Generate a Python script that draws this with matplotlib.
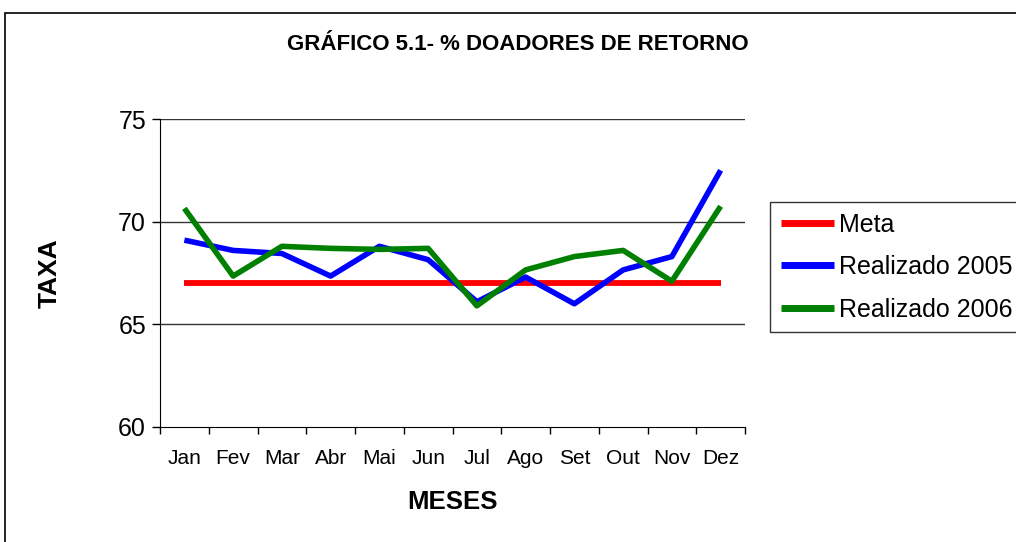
import matplotlib
matplotlib.use("Agg")
import matplotlib.pyplot as plt
from matplotlib.patches import Rectangle
from matplotlib.ticker import FixedLocator

plt.rcParams['font.family'] = ['Liberation Sans', 'DejaVu Sans']

months = ["Jan", "Fev", "Mar", "Abr", "Mai", "Jun", "Jul", "Ago", "Set", "Out", "Nov", "Dez"]
meta = [67.0] * 12
real_2005 = [69.1, 68.6, 68.45, 67.35, 68.8, 68.15, 66.1, 67.3, 66.0, 67.65, 68.3, 72.5]
real_2006 = [70.65, 67.35, 68.8, 68.7, 68.65, 68.7, 65.9, 67.65, 68.3, 68.6, 67.1, 70.75]
yticks = [60, 65, 70, 75]

fig = plt.figure(figsize=(10.16, 5.42), dpi=100)
ax = fig.add_axes([160/1016, 1-427/542, (745-160)/1016, (427-119)/542])

x = list(range(len(months)))
ax.plot(x, meta, color="#ff0000", lw=4.2, label="Meta", solid_capstyle="butt")
ax.plot(x, real_2005, color="#0000ff", lw=4, label="Realizado 2005", solid_capstyle="butt")
ax.plot(x, real_2006, color="#008000", lw=4, label="Realizado 2006", solid_capstyle="butt")

ax.set_xlim(-0.5, len(months) - 0.5)
ax.set_ylim(60, 75)
ax.set_yticks(yticks)
ax.set_xticks(x)
ax.set_xticklabels(months, fontsize=15)
ax.xaxis.set_minor_locator(FixedLocator([i - 0.5 for i in range(len(months) + 1)]))
ax.tick_params(axis='x', which='major', length=0, pad=16)
ax.tick_params(axis='x', which='minor', length=5, width=1, direction='out')
ax.tick_params(axis='y', labelsize=18, length=6, width=1, direction='out', pad=4)
for v in yticks[1:]:
    ax.axhline(v, color="#333333", lw=1, zorder=0)
for s in ["top", "right"]:
    ax.spines[s].set_visible(False)
ax.spines["left"].set_color("black")
ax.spines["bottom"].set_color("black")

ax.set_ylabel("TAXA", fontsize=19, fontweight="bold", va="center", ha="center")
ax.yaxis.set_label_coords((50-160)/585, 0.5)
ax.set_xlabel("MESES", fontsize=18.5, fontweight="bold", va="center", ha="center")
ax.xaxis.set_label_coords(0.5, (427-502)/308)
fig.text(518/1016, 1-45/542, "GRÁFICO 5.1- % DOADORES DE RETORNO", ha="center", va="center",
         fontsize=16, fontweight="bold")

leg = fig.legend(loc="upper left", bbox_to_anchor=(770/1016, 1-202/542), fontsize=18,
                 frameon=True, fancybox=False, edgecolor="black", handlelength=2.15,
                 handletextpad=0.18, borderpad=0.42, labelspacing=0.74, borderaxespad=0)
leg.get_frame().set_linewidth(1)
for h in leg.get_lines():
    h.set_linewidth(5)

fig.patches.append(Rectangle((5/1016, -0.1), 1.2, 1 - 13/542 + 0.1, transform=fig.transFigure,
                             fill=False, edgecolor="black", lw=1.2))

fig.savefig("out.png", dpi=100)
